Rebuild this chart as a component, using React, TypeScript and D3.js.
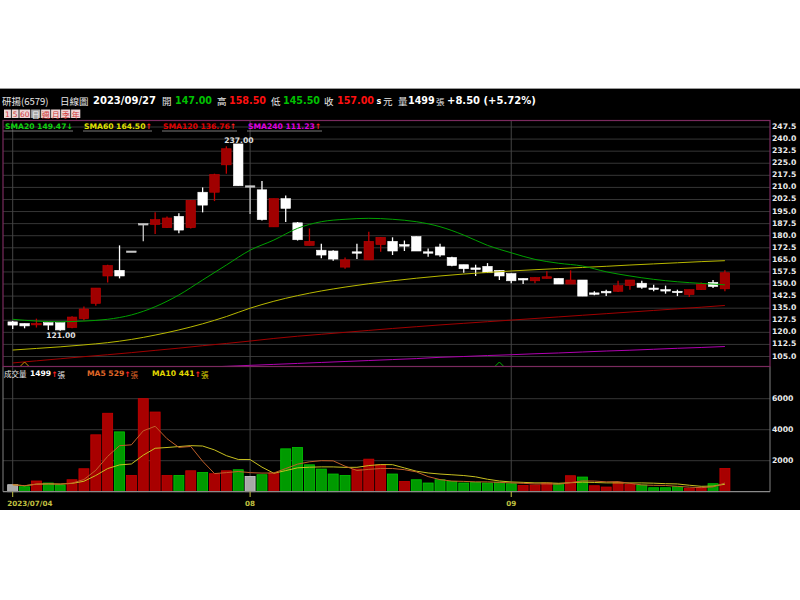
import React from 'react';
import * as d3 from 'd3';

// daily candles 2023/07/04 .. 2023/09/27
const opens = [126.5, 125.5, 125, 126, 126, 123, 128.5, 138, 155, 158.5, 170.5, 187.5, 187, 185, 192, 185, 207, 207, 224, 237, 211, 208.5, 185.5, 203, 188, 174, 171, 170.5, 160.5, 170, 165, 174.5, 176.5, 174.5, 179.5, 170, 173, 166.5, 162, 160, 161, 158.5, 156.5, 153.5, 152, 153.5, 153.5, 150, 152.5, 144.5, 145.5, 145.5, 149, 150.5, 147.5, 146.5, 145.5, 143.5, 146.5, 151, 147];
const highs = [127, 125.5, 128.5, 126, 126, 130, 136, 147.5, 162, 174, 170.5, 187.5, 194.5, 192, 194, 202, 210, 218.5, 235.5, 237, 211, 214, 203, 205, 188.5, 184.5, 175, 171, 166.5, 175, 182.5, 179, 179, 177, 179.5, 172, 175, 167, 162, 162, 163, 158.5, 156.5, 153.5, 154, 158, 153.5, 158.5, 152.5, 145.5, 146.5, 152, 152.5, 152, 149.5, 149, 146.5, 146.5, 151, 152.5, 158.5];
const lows = [122, 122.5, 123, 121.5, 121, 122.5, 127.5, 136.5, 151, 153.5, 170.5, 176.5, 181, 185, 181.5, 184.5, 194.5, 201.5, 218.5, 211, 193.5, 189.5, 185.5, 188.5, 177, 174, 166, 164.5, 159.5, 165.5, 165, 170, 168, 170.5, 170.5, 167, 167, 161, 157, 155, 157, 152.5, 150.5, 150, 150.5, 153.5, 150, 150, 142.5, 143, 142.5, 145, 146.5, 147, 145.5, 144, 142.5, 142, 146.5, 147.5, 145.5];
const closes = [124.5, 124, 125.5, 124.5, 121.5, 129.5, 134.5, 147.5, 161.5, 155, 170.5, 187.5, 190, 191, 183.5, 202, 199, 218, 234, 211, 211, 190, 203, 197, 177.5, 176.5, 168, 165.5, 165, 169.5, 176.5, 179, 170.5, 173.5, 170.5, 169.5, 168, 161.5, 159.5, 159, 157, 155, 152, 152.5, 154, 154.5, 150, 152.5, 142.5, 144, 144.5, 149, 152.5, 148, 147, 146, 145, 146.5, 150, 148.5, 157];
const volumes = [450, 320, 690, 560, 430, 770, 1480, 3670, 5060, 3860, 1050, 6000, 5140, 1050, 1050, 1350, 1240, 1160, 1350, 1415, 985, 1095, 1200, 2765, 2850, 1735, 1460, 1140, 1050, 1460, 2100, 1735, 1140, 665, 770, 560, 770, 665, 560, 610, 560, 610, 515, 405, 430, 560, 515, 1030, 945, 385, 300, 600, 470, 430, 255, 255, 320, 215, 255, 515, 1499];

// moving averages, one value every second day
const sma20 = [128.1, 127.0, 126.6, 127.0, 128.1, 130.8, 135.9, 143.2, 152.5, 161.8, 171.0, 177.3, 184.6, 188.7, 190.2, 190.8, 190.2, 188.7, 185.6, 180.4, 174.0, 169.4, 165.3, 162.9, 161.2, 157.6, 155.0, 152.9, 151.4, 150.4, 149.5];
const sma60 = [109.0, 110.0, 111.0, 112.2, 113.6, 115.6, 118.3, 121.5, 125.3, 129.8, 135.0, 139.3, 142.8, 145.7, 148.1, 150.2, 152.0, 153.6, 155.0, 156.2, 157.2, 158.1, 158.9, 159.6, 160.3, 161.0, 161.8, 162.5, 163.2, 163.9, 164.5];
const sma120 = [101.0, 102.3, 103.6, 104.9, 106.1, 107.4, 108.8, 110.2, 111.7, 113.1, 114.6, 116.2, 117.6, 118.8, 120.0, 121.2, 122.4, 123.5, 124.6, 125.6, 126.6, 127.6, 128.6, 129.6, 130.6, 131.6, 132.6, 133.6, 134.6, 135.6, 136.7];
const sma240 = [93.5, 94.1, 94.7, 95.3, 95.9, 96.5, 97.1, 97.7, 98.3, 98.9, 99.5, 100.1, 100.7, 101.3, 101.9, 102.5, 103.1, 103.7, 104.5, 105.0, 105.6, 106.1, 106.7, 107.2, 107.8, 108.4, 108.9, 109.5, 110.1, 110.6, 111.2];

const priceTicks = [105, 112.5, 120, 127.5, 135, 142.5, 150, 157.5, 165, 172.5, 180, 187.5, 195, 202.5, 210, 217.5, 225, 232.5, 240, 247.5];
const volTicks = [2000, 4000, 6000];
const monthIdx = [0, 20, 42];
const monthLabels = ['2023/07/04', '08', '09'];
const periodButtons = ['1', '5', '60', '日', '週', '月', '季', '年'];

const NUM = '"DejaVu Sans", Verdana, sans-serif';
const CJK = '"Noto Sans CJK TC", "Noto Sans CJK SC", sans-serif';

const App = () => {
  const left = 3;
  const right = 770;
  const priceTop = 120.5;
  const priceBottom = 366.5;
  const volBottom = 491.7;

  const x = d3.scaleLinear().domain([0, closes.length - 1]).range([12.7, 724.9]);
  const y = d3.scaleLinear().domain([105, 247.5]).range([356.5, 127]);
  const yv = d3.scaleLinear().domain([0, 6000]).range([volBottom, 398.7]);

  const smaLine = d3
    .line<number>()
    .x((d, i) => x(i * 2))
    .y(d => y(d))
    .curve(d3.curveMonotoneX);

  const ma = (n: number) =>
    volumes.map((_, i) => d3.mean(volumes.slice(Math.max(0, i - n + 1), i + 1)) as number);
  const volLine = d3
    .line<number>()
    .x((d, i) => x(i))
    .y(d => yv(d));

  const bodyW = 9.5;
  const barW = 10;

  // button strip
  let bx = 4;
  const buttons = periodButtons.map(l => {
    const w = /\d/.test(l) ? 3.7 + l.length * 4 : 10;
    const b = { l, x: bx, w };
    bx += w;
    return b;
  });

  return (
    <svg width={800} height={600} style={{ position: 'absolute', left: 0, top: 0, background: '#fff' }}>
      <defs>
        <clipPath id="priceClip">
          <rect x={left} y={priceTop} width={right - left} height={priceBottom - priceTop} />
        </clipPath>
      </defs>
      <rect x={0} y={88} width={800} height={422} fill="#000" />
      <line x1={0} x2={800} y1={88.5} y2={88.5} stroke="#9a9a9a" />

      {/* header */}
      <g fontSize={9.6} dominantBaseline="central">
        <text x={2} y={100.5} fill="#e8e8e8" fontFamily={CJK} fontSize={9.5}>研揚(6579)</text>
        <text x={60} y={100.5} fill="#e8e8e8" fontFamily={CJK} fontSize={9.5}>日線圖</text>
        <text x={93} y={100.5} fill="#fff" fontFamily={NUM} fontWeight="bold" fontSize={10}>2023/09/27</text>
        <text x={162} y={100.5} fill="#e8e8e8" fontFamily={CJK} fontSize={9.5}>開</text>
        <text x={175} y={100.5} fill="#00c000" fontFamily={NUM} fontWeight="bold">147.00</text>
        <text x={217} y={100.5} fill="#e8e8e8" fontFamily={CJK} fontSize={9.5}>高</text>
        <text x={229} y={100.5} fill="#ff1010" fontFamily={NUM} fontWeight="bold">158.50</text>
        <text x={271} y={100.5} fill="#e8e8e8" fontFamily={CJK} fontSize={9.5}>低</text>
        <text x={283} y={100.5} fill="#00c000" fontFamily={NUM} fontWeight="bold">145.50</text>
        <text x={324} y={100.5} fill="#e8e8e8" fontFamily={CJK} fontSize={9.5}>收</text>
        <text x={337} y={100.5} fill="#ff1010" fontFamily={NUM} fontWeight="bold">157.00</text>
        <text x={376.5} y={101} fill="#fff" fontFamily={NUM} fontWeight="bold" fontSize={8}>s</text>
        <text x={383} y={100.5} fill="#e8e8e8" fontFamily={CJK} fontSize={9.5}>元</text>
        <text x={398} y={100.5} fill="#e8e8e8" fontFamily={CJK} fontSize={9.5}>量</text>
        <text x={408} y={100.5} fill="#fff" fontFamily={NUM} fontWeight="bold">1499</text>
        <text x={436} y={100.5} fill="#e8e8e8" fontFamily={CJK} fontSize={8.5}>張</text>
        <text x={447} y={100.5} fill="#fff" fontFamily={NUM} fontWeight="bold" fontSize={10}>+8.50 (+5.72%)</text>
      </g>

      {/* period buttons */}
      {buttons.map(b => (
        <g key={b.l}>
          <rect x={b.x} y={109.5} width={b.w - 0.8} height={8.5} fill={b.l === '日' ? '#a8a8a8' : '#ecd6d6'} />
          <text
            x={b.x + (b.w - 0.8) / 2}
            y={114}
            textAnchor="middle"
            dominantBaseline="central"
            fontSize={/\d/.test(b.l) ? 7.5 : 8}
            fontFamily={/\d/.test(b.l) ? NUM : CJK}
            fill={b.l === '日' ? '#f4f4f4' : '#d03a3a'}
          >
            {b.l}
          </text>
        </g>
      ))}

      {/* grids */}
      {priceTicks.map(t => (
        <line key={t} x1={left} x2={right} y1={y(t)} y2={y(t)} stroke="#363636" />
      ))}
      {volTicks.map(t => (
        <line key={t} x1={left} x2={right} y1={yv(t)} y2={yv(t)} stroke="#363636" />
      ))}
      {monthIdx.map(i => (
        <line key={i} x1={x(i)} x2={x(i)} y1={priceTop} y2={volBottom} stroke="#454545" />
      ))}

      {/* SMA legend */}
      <g fontFamily={NUM} fontWeight="bold" fontSize={7.6} dominantBaseline="central">
        <text x={5} y={126} fill="#10d010">SMA20 149.47<tspan fill="#10d010">↓</tspan></text>
        <line x1={3} x2={73} y1={131} y2={131} stroke="#7a7a7a" />
        <text x={84} y={126} fill="#e0e000">SMA60 164.50<tspan fill="#ff2020">↑</tspan></text>
        <line x1={83} x2={152} y1={131} y2={131} stroke="#7a7a7a" />
        <text x={163} y={126} fill="#e00000">SMA120 136.76<tspan fill="#ff2020">↑</tspan></text>
        <line x1={162} x2={237} y1={131} y2={131} stroke="#7a7a7a" />
        <text x={248} y={126} fill="#e000e0">SMA240 111.23<tspan fill="#ff2020">↑</tspan></text>
        <line x1={247} x2={322} y1={131} y2={131} stroke="#7a7a7a" />
      </g>

      {/* candles */}
      {closes.map((c, i) => {
        const o = opens[i];
        const cx = x(i);
        const col = c > o ? '#c00000' : c < o ? '#ffffff' : '#c8c8c8';
        const fill = c > o ? '#a00000' : c < o ? '#ffffff' : '#c8c8c8';
        const top = y(Math.max(o, c));
        const h = Math.max(1.4, Math.abs(y(o) - y(c)));
        return (
          <g key={i}>
            <line x1={cx} x2={cx} y1={y(highs[i])} y2={y(lows[i])} stroke={col} strokeWidth={1.3} />
            <rect x={cx - bodyW / 2} y={top} width={bodyW} height={h} fill={fill} stroke={col} strokeWidth={0.6} />
          </g>
        );
      })}

      {/* price moving averages */}
      <g clipPath="url(#priceClip)" fill="none" strokeWidth={1}>
        <path d={smaLine(sma240) || ''} stroke="#b000b0" />
        <path d={smaLine(sma120) || ''} stroke="#a00000" />
        <path d={smaLine(sma60) || ''} stroke="#b8b800" />
        <path d={smaLine(sma20) || ''} stroke="#00a000" />
      </g>

      {/* extreme labels and markers */}
      <text x={x(19) - 14} y={140} fill="#e0e0e0" fontFamily={NUM} fontWeight="bold" fontSize={7.6} dominantBaseline="central">237.00</text>
      <text x={x(4) - 14} y={335} fill="#e0e0e0" fontFamily={NUM} fontWeight="bold" fontSize={7.6} dominantBaseline="central">121.00</text>
      <polyline points={`${x(1) - 4},366 ${x(1)},362 ${x(1) + 4},366`} fill="none" stroke="#d09000" />
      <polyline points={`${x(41) - 4},366 ${x(41)},362 ${x(41) + 4},366`} fill="none" stroke="#00b000" />

      {/* price axis */}
      {priceTicks.map(t => (
        <text key={t} x={772} y={y(t) - 0.5} fill="#ececec" fontFamily={NUM} fontWeight="bold" fontSize={7.7} dominantBaseline="central">
          {t.toFixed(1)}
        </text>
      ))}

      {/* volume legend */}
      <g fontFamily={NUM} fontWeight="bold" fontSize={7.6} dominantBaseline="central">
        <text x={4} y={373.5} fill="#e8e8e8" fontFamily={CJK} fontWeight="normal" fontSize={7.5}>成交量</text>
        <text x={30} y={373.5} fill="#fff">1499<tspan fill="#ff2020">↑</tspan><tspan fontFamily={CJK} fontWeight="normal" fill="#e8e8e8">張</tspan></text>
        <text x={87} y={373.5} fill="#e06828">MA5 529<tspan fill="#ff2020">↑</tspan><tspan fontFamily={CJK} fontWeight="normal">張</tspan></text>
        <text x={152} y={373.5} fill="#e0d800">MA10 441<tspan fill="#ff2020">↑</tspan><tspan fontFamily={CJK} fontWeight="normal">張</tspan></text>
      </g>

      {/* volume bars */}
      {volumes.map((v, i) => {
        const dir = i === 0 ? 0 : Math.sign(closes[i] - closes[i - 1]);
        const fill = dir > 0 ? '#a80000' : dir < 0 ? '#009a00' : '#a8a8a8';
        const stroke = dir > 0 ? '#c80000' : dir < 0 ? '#00c800' : '#d0d0d0';
        return (
          <rect key={i} x={x(i) - barW / 2} y={yv(v)} width={barW} height={volBottom - yv(v)} fill={fill} stroke={stroke} strokeWidth={0.8} />
        );
      })}
      <path d={volLine(ma(10)) || ''} fill="none" stroke="#c8c020" strokeWidth={1} />
      <path d={volLine(ma(5)) || ''} fill="none" stroke="#c0602a" strokeWidth={1} />

      {volTicks.map(t => (
        <text key={t} x={772} y={yv(t)} fill="#ececec" fontFamily={NUM} fontWeight="bold" fontSize={7.7} dominantBaseline="central">
          {t}
        </text>
      ))}

      {/* panel frames */}
      <line x1={left} x2={left} y1={priceBottom} y2={volBottom} stroke="#808080" />
      <line x1={right} x2={right} y1={priceBottom} y2={volBottom} stroke="#808080" />
      <line x1={left} x2={right} y1={volBottom} y2={volBottom} stroke="#8a8a8a" strokeWidth={1.2} />
      <rect x={left} y={priceTop} width={right - left} height={priceBottom - priceTop} fill="none" stroke="#7a2a5e" strokeWidth={1.2} />

      {/* date axis */}
      {monthIdx.map((i, k) => (
        <g key={i}>
          <line x1={x(i)} x2={x(i)} y1={volBottom} y2={497} stroke="#c0c040" />
          <text
            x={k === 0 ? x(i) - 5.5 : x(i)}
            y={503.5}
            textAnchor={k === 0 ? 'start' : 'middle'}
            fill="#c0c040"
            fontFamily={NUM}
            fontWeight="bold"
            fontSize={7.2}
            dominantBaseline="central"
          >
            {monthLabels[k]}
          </text>
        </g>
      ))}
    </svg>
  );
};

export default App;
